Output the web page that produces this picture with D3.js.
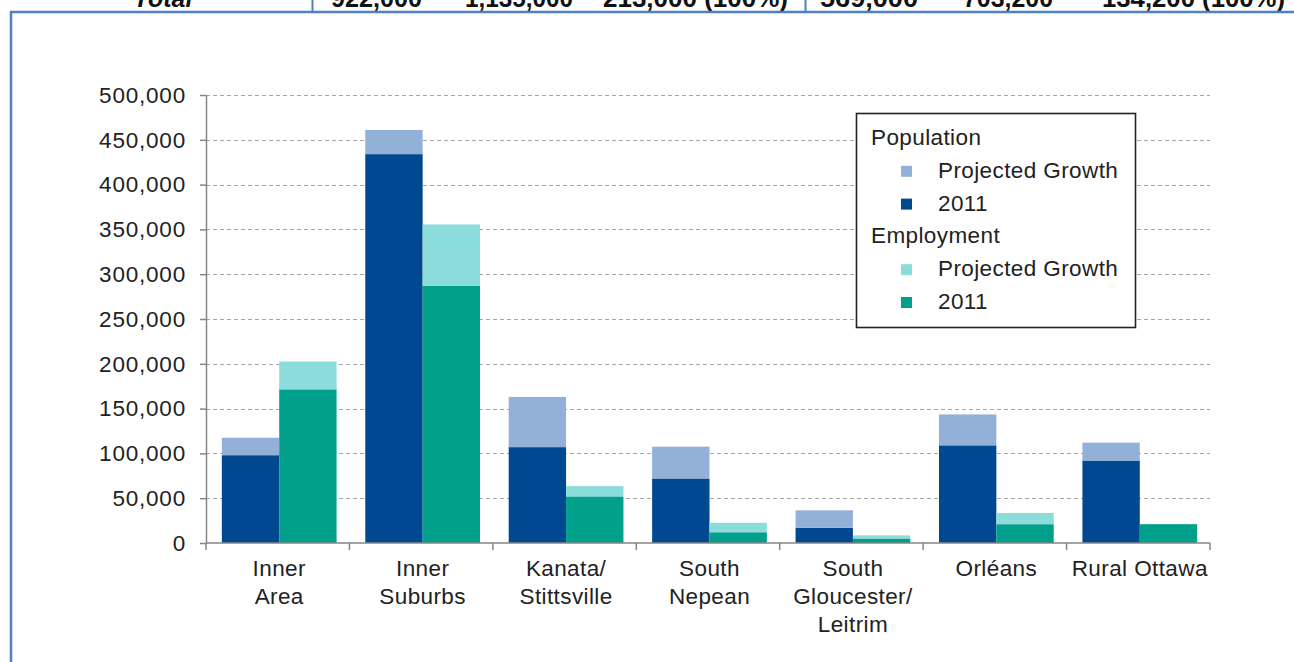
<!DOCTYPE html>
<html>
<head>
<meta charset="utf-8">
<script src="https://cdn.jsdelivr.net/npm/d3@7"></script>
<style>
  html, body { margin: 0; padding: 0; background: #fff; }
  svg { display: block; font-family: "Liberation Sans", Arial, sans-serif; }
</style>
</head>
<body>
<svg id="chart" width="1294" height="662"></svg>
<script>
// Ottawa subareas: population and employment, 2011 plus projected growth
const areas = [
  ["Inner", "Area"],
  ["Inner", "Suburbs"],
  ["Kanata/", "Stittsville"],
  ["South", "Nepean"],
  ["South", "Gloucester/", "Leitrim"],
  ["Orléans"],
  ["Rural Ottawa"]
];
const pop2011      = [98000, 434000, 107000, 72000, 17000, 109000, 92000];
const popGrowth    = [19500, 27000, 56000, 35500, 19500, 34500, 20000];
const emp2011      = [171500, 287000, 52000, 12000, 5000, 21000, 21000];
const empGrowth    = [31000, 68500, 11500, 10500, 3500, 12500, 0];
const yTicks       = [0, 50000, 100000, 150000, 200000, 250000, 300000, 350000, 400000, 450000, 500000];

// Totals row of the table above the figure
const totalRow = ["922,000", "1,135,000", "213,000 (100%)", "569,000", "703,200", "134,200 (100%)"];

const colors = {
  popBase: "#004990",
  popGrowth: "#93b1d8",
  empBase: "#00a08c",
  empGrowth: "#8ddcdc"
};

const svg = d3.select("#chart");
const FS = 22.5;
const LS = "0.4px";

// ---- table row and page frame ----
svg.append("text").attr("x", 163).attr("y", 7).attr("text-anchor", "middle")
  .attr("font-size", 25).attr("font-weight", "bold").attr("font-style", "italic")
  .attr("fill", "#111").text("Total");
const cellX = [331, 465, 603, 820, 963, 1102];
const cellW = [91, 108, 185, 98, 90, 183];
totalRow.forEach((t, i) => {
  svg.append("text").attr("x", cellX[i]).attr("y", 7)
    .attr("font-size", 25).attr("font-weight", "bold").attr("fill", "#111")
    .attr("textLength", cellW[i]).attr("lengthAdjust", "spacingAndGlyphs")
    .text(t);
});
svg.append("line").attr("x1", 312.5).attr("x2", 312.5).attr("y1", 0).attr("y2", 12)
  .attr("stroke", "#4f81bd").attr("stroke-width", 2);
svg.append("line").attr("x1", 805.5).attr("x2", 805.5).attr("y1", 0).attr("y2", 12)
  .attr("stroke", "#4f81bd").attr("stroke-width", 2);
svg.append("path").attr("d", "M11,662 V12 H1294")
  .attr("fill", "none").attr("stroke", "#4f81bd").attr("stroke-width", 2.5);

// ---- plot ----
const plot = { left: 206, right: 1210, top: 95, bottom: 543 };

const x = d3.scaleBand()
  .domain(d3.range(areas.length))
  .range([plot.left, plot.right])
  .paddingInner(0.2)
  .paddingOuter(0.1);

const sub = d3.scaleBand()
  .domain(["pop", "emp"])
  .range([0, x.bandwidth()]);

const y = d3.scaleLinear().domain([0, 500000]).range([plot.bottom, plot.top]);

// dashed gridlines
svg.append("g").selectAll("line")
  .data(yTicks.filter(d => d > 0))
  .join("line")
  .attr("x1", plot.left).attr("x2", plot.right)
  .attr("y1", d => Math.round(y(d)) + 0.5).attr("y2", d => Math.round(y(d)) + 0.5)
  .attr("stroke", "#a6a6a6").attr("stroke-width", 1.2)
  .attr("stroke-dasharray", "4,3");

// stacked bars
const stacks = [];
areas.forEach((a, i) => {
  stacks.push({ i, s: "pop", y0: 0, y1: pop2011[i], c: colors.popBase });
  stacks.push({ i, s: "pop", y0: pop2011[i], y1: pop2011[i] + popGrowth[i], c: colors.popGrowth });
  stacks.push({ i, s: "emp", y0: 0, y1: emp2011[i], c: colors.empBase });
  stacks.push({ i, s: "emp", y0: emp2011[i], y1: emp2011[i] + empGrowth[i], c: colors.empGrowth });
});
svg.append("g").attr("transform", "translate(1.5,0)")
  .selectAll("rect")
  .data(stacks.filter(d => d.y1 > d.y0))
  .join("rect")
  .attr("x", d => x(d.i) + sub(d.s))
  .attr("width", sub.bandwidth())
  .attr("y", d => y(d.y1))
  .attr("height", d => y(d.y0) - y(d.y1))
  .attr("fill", d => d.c);

// y axis
const yAxis = svg.append("g")
  .attr("transform", `translate(${plot.left},0)`)
  .call(d3.axisLeft(y).tickValues(yTicks).tickFormat(d3.format(",")).tickSizeInner(6).tickSizeOuter(0).tickPadding(14));
yAxis.select(".domain").attr("stroke", "#868686").attr("stroke-width", 1.5);
yAxis.selectAll(".tick line").attr("stroke", "#868686").attr("stroke-width", 1.5);
yAxis.selectAll(".tick text").attr("font-size", FS).attr("fill", "#222")
  .style("letter-spacing", "0.8px")
  .attr("font-family", "Liberation Sans, Arial, sans-serif");

// x axis with ticks at category boundaries
const xAxisG = svg.append("g");
xAxisG.append("line")
  .attr("x1", plot.left).attr("x2", plot.right)
  .attr("y1", plot.bottom).attr("y2", plot.bottom)
  .attr("stroke", "#868686").attr("stroke-width", 1.5);
const step = x.step();
const bounds = d3.range(areas.length + 1).map(k => x(0) - x.paddingOuter() * step + k * step);
xAxisG.selectAll("line.tk")
  .data(bounds)
  .join("line").attr("class", "tk")
  .attr("x1", d => d).attr("x2", d => d)
  .attr("y1", plot.bottom).attr("y2", plot.bottom + 7)
  .attr("stroke", "#868686").attr("stroke-width", 1.5);

// category labels
const lab = svg.append("g").selectAll("text")
  .data(areas)
  .join("text")
  .attr("text-anchor", "middle")
  .attr("font-size", FS)
  .style("letter-spacing", LS)
  .attr("fill", "#222");
lab.each(function (lines, i) {
  const t = d3.select(this);
  lines.forEach((ln, j) => {
    t.append("tspan")
      .attr("x", x(i) + x.bandwidth() / 2 + 1.5)
      .attr("y", 576 + j * 28)
      .text(ln);
  });
});

// ---- legend ----
const lg = svg.append("g");
lg.append("rect").attr("x", 856.5).attr("y", 113.5).attr("width", 279).attr("height", 214)
  .attr("fill", "#fff").attr("stroke", "#222").attr("stroke-width", 1.6);
const legendRows = [
  { type: "head", text: "Population" },
  { type: "item", text: "Projected Growth", color: colors.popGrowth },
  { type: "item", text: "2011", color: colors.popBase },
  { type: "head", text: "Employment" },
  { type: "item", text: "Projected Growth", color: colors.empGrowth },
  { type: "item", text: "2011", color: colors.empBase }
];
legendRows.forEach((r, k) => {
  const by = 145 + k * 32.8;
  if (r.type === "head") {
    lg.append("text").attr("x", 871).attr("y", by).attr("font-size", FS)
      .style("letter-spacing", LS).attr("fill", "#222").text(r.text);
  } else {
    lg.append("rect").attr("x", 901).attr("y", by - 12).attr("width", 11).attr("height", 11).attr("fill", r.color);
    lg.append("text").attr("x", 938).attr("y", by).attr("font-size", FS)
      .style("letter-spacing", LS).attr("fill", "#222").text(r.text);
  }
});
</script>
</body>
</html>
